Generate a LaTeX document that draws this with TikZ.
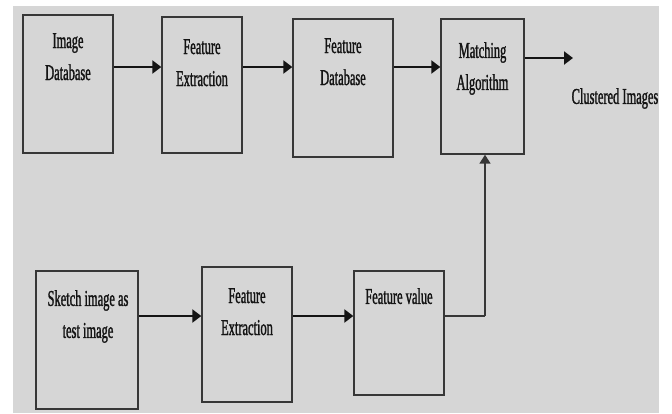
\documentclass[tikz,border=0pt]{standalone}
\usepackage{fontspec}
\setmainfont[FakeStretch=0.55,FakeBold=1.2]{Liberation Serif}
\usetikzlibrary{arrows.meta,calc}
\definecolor{panel}{HTML}{D6D6D6}
\definecolor{ink}{HTML}{141414}
\begin{document}
\begin{tikzpicture}[x=1pt,y=-1pt,
  box/.style={draw=ink!85, line width=1.4pt, rectangle, inner sep=0pt},
  lbl/.style={anchor=north, inner sep=0pt, align=center, text=ink,
    font=\fontsize{22.6pt}{32pt}\selectfont},
  arr/.style={draw=ink, line width=2.5pt, -{Triangle[length=9pt,width=13pt]}},
  link/.style={draw=ink!85, line width=1.6pt}]
\useasboundingbox (0,0) rectangle (672,413);
\fill[white] (0,0) rectangle (672,413);
\fill[panel] (13,6) rectangle (659,413);

% upper row: database side
\node[box, minimum width=90pt, minimum height=138pt] (imgdb) at (68,84) {};
\node[box, minimum width=80pt, minimum height=136pt] (fe1) at (202,85) {};
\node[box, minimum width=100pt, minimum height=138pt] (fdb) at (343,88) {};
\node[box, minimum width=83pt, minimum height=135pt] (match) at (482.5,86.5) {};

% lower row: query side
\node[box, minimum width=102pt, minimum height=138pt] (sketch) at (87,340) {};
\node[box, minimum width=90pt, minimum height=135pt] (fe2) at (247,334.5) {};
\node[box, minimum width=90pt, minimum height=124pt] (fval) at (399,333) {};

% box captions
\node[lbl] (timgdb) at (68,33) {Image\\Database};
\node[lbl] (tfe1) at (202,39) {Feature\\Extraction};
\node[lbl] (tfdb) at (343,38) {Feature\\Database};
\node[lbl] (tmatch) at (482.5,42) {Matching\\Algorithm};
\node[lbl] (tsketch) at (88,290) {Sketch image as\\test image};
\node[lbl] (tfe2) at (247,288) {Feature\\Extraction};
\node[lbl] (tfval) at (399,288) {Feature value};
\node[lbl] (out) at (615,88) {Clustered Images};

% connectors
\coordinate (toprow) at (0,67);
\coordinate (botrow) at (0,316);
\coordinate (outend) at (573,58);
\coordinate (riser) at (485,316);

\draw[arr] (imgdb.east |- toprow) -- (fe1.west |- toprow);
\draw[arr] (fe1.east |- toprow) -- (fdb.west |- toprow);
\draw[arr] (fdb.east |- toprow) -- (match.west |- toprow);
\draw[arr] (match.east |- outend) -- (outend);

\draw[arr] (sketch.east |- botrow) -- (fe2.west |- botrow);
\draw[arr] (fe2.east |- botrow) -- (fval.west |- botrow);
\draw[link] (fval.east |- riser) -- (riser);
\draw[link, -{Triangle[length=9pt,width=11pt]}] (riser) -- (riser |- match.south);
\end{tikzpicture}
\end{document}
